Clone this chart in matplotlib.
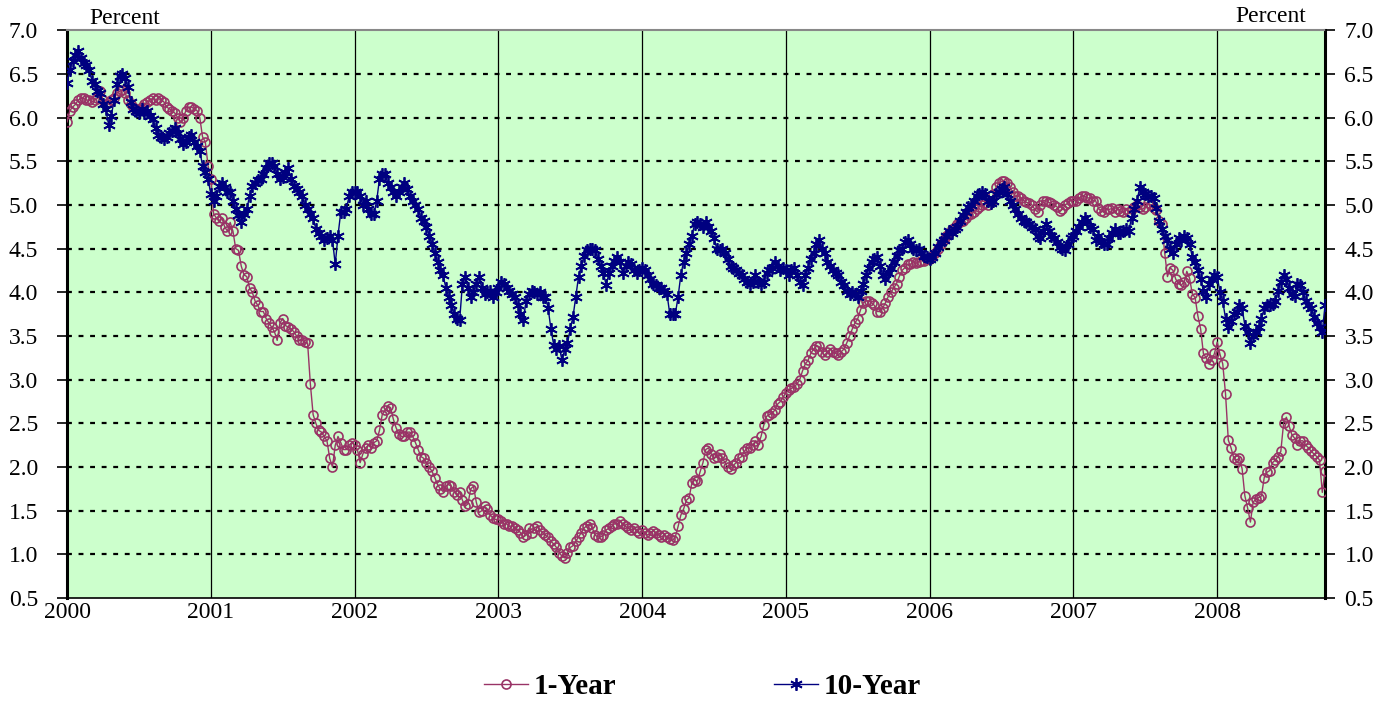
####################
# 1-Year and 10-Year Treasury yields, weekly, 2000 - 2008
####################

# IMPORTS
import numpy as np
import matplotlib
matplotlib.use("Agg")
import matplotlib.pyplot as plt
from matplotlib.lines import Line2D


# DATA (weekly values, one list per year)
years = [2000, 2001, 2002, 2003, 2004, 2005, 2006, 2007, 2008]

one_year = {
    2000: [5.95, 6.08, 6.12, 6.15, 6.2, 6.22, 6.22, 6.2, 6.2, 6.18, 6.2, 6.22, 6.3,
           6.2, 6.15, 6.18, 6.2, 6.22, 6.28, 6.3, 6.32, 6.28, 6.2, 6.15, 6.12, 6.1,
           6.1, 6.12, 6.15, 6.18, 6.2, 6.22, 6.2, 6.22, 6.2, 6.18, 6.12, 6.1, 6.08,
           6.05, 6.0, 5.95, 6.0, 6.08, 6.12, 6.12, 6.1, 6.08, 6.0, 5.78, 5.72, 5.45],
    2001: [5.3, 4.9, 4.85, 4.82, 4.85, 4.75, 4.7, 4.8, 4.7, 4.5, 4.48, 4.3, 4.2,
           4.18, 4.05, 4.0, 3.9, 3.85, 3.78, 3.78, 3.7, 3.65, 3.6, 3.55, 3.45, 3.65,
           3.7, 3.62, 3.6, 3.58, 3.55, 3.5, 3.45, 3.45, 3.43, 3.42, 2.95, 2.6, 2.5,
           2.42, 2.4, 2.35, 2.3, 2.1, 2.0, 2.25, 2.35, 2.28, 2.2, 2.2, 2.25, 2.28],
    2002: [2.25, 2.2, 2.05, 2.15, 2.22, 2.25, 2.22, 2.28, 2.3, 2.42, 2.6, 2.65, 2.7,
           2.68, 2.55, 2.45, 2.38, 2.35, 2.35, 2.4, 2.4, 2.35, 2.28, 2.2, 2.12, 2.1,
           2.05, 2.0, 1.95, 1.88, 1.8, 1.75, 1.72, 1.78, 1.8, 1.78, 1.72, 1.68, 1.72,
           1.62, 1.55, 1.58, 1.75, 1.78, 1.6, 1.48, 1.5, 1.55, 1.52, 1.45, 1.42, 1.4],
    2003: [1.4, 1.38, 1.35, 1.35, 1.32, 1.33, 1.3, 1.28, 1.25, 1.2, 1.22, 1.3, 1.25,
           1.3, 1.32, 1.28, 1.25, 1.22, 1.2, 1.15, 1.12, 1.08, 1.02, 0.98, 0.96, 1.02,
           1.08, 1.1, 1.15, 1.2, 1.25, 1.3, 1.33, 1.35, 1.3, 1.22, 1.2, 1.2, 1.22,
           1.28, 1.3, 1.32, 1.35, 1.35, 1.38, 1.35, 1.32, 1.3, 1.28, 1.3, 1.27, 1.25],
    2004: [1.28, 1.25, 1.22, 1.25, 1.27, 1.25, 1.22, 1.2, 1.22, 1.2, 1.18, 1.16, 1.2,
           1.32, 1.45, 1.52, 1.62, 1.65, 1.82, 1.85, 1.84, 1.95, 2.05, 2.2, 2.22, 2.15,
           2.1, 2.12, 2.15, 2.1, 2.05, 2.0, 1.98, 2.02, 2.05, 2.1, 2.12, 2.18, 2.22,
           2.22, 2.25, 2.3, 2.25, 2.35, 2.48, 2.58, 2.6, 2.62, 2.65, 2.72, 2.75, 2.8],
    2005: [2.85, 2.88, 2.9, 2.92, 2.95, 3.0, 3.1, 3.18, 3.22, 3.3, 3.35, 3.38, 3.38,
           3.32, 3.28, 3.32, 3.35, 3.32, 3.3, 3.28, 3.32, 3.35, 3.42, 3.5, 3.58, 3.65,
           3.7, 3.8, 3.88, 3.9, 3.9, 3.88, 3.85, 3.78, 3.78, 3.82, 3.88, 3.95, 4.0,
           4.05, 4.1, 4.18, 4.25, 4.28, 4.32, 4.32, 4.35, 4.33, 4.35, 4.36, 4.36, 4.38],
    2006: [4.38, 4.42, 4.45, 4.5, 4.55, 4.6, 4.65, 4.68, 4.72, 4.75, 4.78, 4.8, 4.82,
           4.85, 4.88, 4.9, 4.92, 4.95, 4.98, 5.0, 5.02, 5.0, 5.05, 5.12, 5.2, 5.25,
           5.27, 5.27, 5.25, 5.2, 5.15, 5.1, 5.1, 5.08, 5.05, 5.03, 5.02, 5.0, 4.95,
           4.92, 5.0, 5.05, 5.05, 5.03, 5.02, 5.0, 4.98, 4.93, 4.95, 5.0, 5.02, 5.05],
    2007: [5.05, 5.05, 5.08, 5.1, 5.1, 5.08, 5.08, 5.05, 5.05, 4.96, 4.93, 4.92, 4.95,
           4.95, 4.96, 4.92, 4.95, 4.93, 4.92, 4.95, 4.92, 4.95, 4.98, 5.0, 4.98, 4.95,
           4.98, 5.02, 5.0, 4.96, 4.94, 4.82, 4.78, 4.45, 4.18, 4.28, 4.25, 4.15, 4.1,
           4.08, 4.12, 4.24, 4.16, 3.98, 3.94, 3.73, 3.58, 3.3, 3.25, 3.18, 3.22, 3.3],
    2008: [3.43, 3.29, 3.18, 2.84, 2.31, 2.22, 2.1, 2.08, 2.1, 1.98, 1.67, 1.53, 1.37,
           1.6, 1.63, 1.65, 1.67, 1.88, 1.94, 1.96, 2.05, 2.08, 2.12, 2.18, 2.5, 2.57,
           2.47, 2.37, 2.33, 2.25, 2.3, 2.3, 2.25, 2.22, 2.18, 2.15, 2.12, 2.08, 1.71,
           1.96],
}

ten_year = {
    2000: [6.4, 6.55, 6.65, 6.72, 6.76, 6.68, 6.62, 6.6, 6.55, 6.42, 6.38, 6.3, 6.28,
           6.15, 6.1, 5.92, 6.02, 6.2, 6.38, 6.48, 6.5, 6.45, 6.35, 6.18, 6.1, 6.08,
           6.05, 6.1, 6.05, 6.08, 6.02, 5.98, 5.88, 5.8, 5.78, 5.75, 5.78, 5.82, 5.85,
           5.88, 5.82, 5.75, 5.7, 5.72, 5.78, 5.8, 5.72, 5.68, 5.62, 5.45, 5.38, 5.3],
    2001: [5.12, 5.05, 5.1, 5.22, 5.25, 5.2, 5.15, 5.15, 5.05, 4.95, 4.88, 4.8, 4.9,
           4.95, 5.1, 5.22, 5.25, 5.28, 5.3, 5.35, 5.42, 5.48, 5.48, 5.45, 5.35, 5.3,
           5.32, 5.38, 5.42, 5.3, 5.22, 5.18, 5.15, 5.1, 5.0, 4.95, 4.9, 4.85, 4.72,
           4.68, 4.65, 4.6, 4.62, 4.65, 4.6, 4.32, 4.65, 4.92, 4.92, 4.95, 5.1, 5.15],
    2002: [5.15, 5.15, 5.1, 5.0, 5.05, 4.95, 4.9, 4.9, 5.05, 5.3, 5.35, 5.35, 5.25,
           5.2, 5.15, 5.1, 5.15, 5.2, 5.25, 5.18, 5.1, 5.05, 5.0, 4.95, 4.85, 4.82,
           4.75, 4.65, 4.55, 4.45, 4.35, 4.25, 4.2, 4.05, 3.95, 3.85, 3.75, 3.7, 3.68,
           4.1, 4.18, 4.05, 3.95, 4.0, 4.1, 4.18, 4.05, 3.98, 4.0, 4.02, 3.95, 4.0],
    2003: [4.05, 4.12, 4.1, 4.05, 4.02, 3.98, 3.95, 3.85, 3.75, 3.68, 3.9, 3.98, 4.02,
           4.0, 3.98, 4.0, 3.95, 3.95, 3.82, 3.58, 3.4, 3.35, 3.38, 3.22, 3.35, 3.42,
           3.58, 3.72, 3.95, 4.18, 4.3, 4.42, 4.48, 4.5, 4.5, 4.48, 4.38, 4.3, 4.22,
           4.08, 4.22, 4.3, 4.36, 4.4, 4.35, 4.22, 4.3, 4.35, 4.32, 4.25, 4.22, 4.25],
    2004: [4.28, 4.25, 4.2, 4.15, 4.1, 4.08, 4.05, 4.05, 4.02, 3.98, 3.75, 3.75, 3.75,
           3.95, 4.2, 4.35, 4.45, 4.55, 4.65, 4.78, 4.8, 4.78, 4.75, 4.8, 4.75, 4.7,
           4.62, 4.5, 4.48, 4.5, 4.45, 4.38, 4.3, 4.28, 4.25, 4.22, 4.2, 4.15, 4.12,
           4.1, 4.12, 4.2, 4.12, 4.1, 4.12, 4.22, 4.25, 4.28, 4.35, 4.3, 4.25, 4.28],
    2005: [4.25, 4.2, 4.25, 4.28, 4.2, 4.12, 4.08, 4.2, 4.28, 4.38, 4.45, 4.55, 4.6,
           4.5, 4.45, 4.35, 4.3, 4.25, 4.22, 4.2, 4.12, 4.08, 4.02, 3.98, 4.0, 3.98,
           3.95, 4.02, 4.1, 4.2, 4.28, 4.35, 4.38, 4.4, 4.3, 4.2, 4.15, 4.22, 4.28,
           4.35, 4.42, 4.48, 4.5, 4.58, 4.6, 4.55, 4.5, 4.48, 4.5, 4.45, 4.42, 4.4],
    2006: [4.38, 4.4, 4.45, 4.52, 4.58, 4.6, 4.65, 4.7, 4.68, 4.72, 4.75, 4.82, 4.88,
           4.92, 4.98, 5.0, 5.05, 5.1, 5.12, 5.15, 5.12, 5.05, 5.02, 5.05, 5.12, 5.15,
           5.18, 5.2, 5.12, 5.05, 5.0, 4.95, 4.9, 4.85, 4.82, 4.8, 4.78, 4.75, 4.72,
           4.65, 4.62, 4.7, 4.78, 4.7, 4.65, 4.62, 4.58, 4.52, 4.5, 4.48, 4.55, 4.62],
    2007: [4.65, 4.7, 4.75, 4.8, 4.85, 4.82, 4.75, 4.72, 4.6, 4.65, 4.58, 4.55, 4.55,
           4.62, 4.68, 4.72, 4.68, 4.68, 4.7, 4.72, 4.7, 4.85, 4.95, 5.05, 5.2, 5.15,
           5.12, 5.1, 5.1, 5.08, 4.97, 4.82, 4.72, 4.65, 4.6, 4.5, 4.45, 4.55, 4.62,
           4.6, 4.65, 4.62, 4.55, 4.4, 4.35, 4.25, 4.15, 4.02, 3.95, 4.1, 4.15, 4.2],
    2008: [4.18, 4.0, 3.9, 3.7, 3.6, 3.67, 3.75, 3.78, 3.85, 3.82, 3.62, 3.55, 3.42,
           3.5, 3.55, 3.6, 3.7, 3.82, 3.85, 3.85, 3.87, 3.9, 4.02, 4.12, 4.2, 4.15,
           4.05, 3.98, 3.96, 4.1, 4.08, 4.0, 3.9, 3.85, 3.82, 3.72, 3.65, 3.6, 3.55,
           3.85],
}

y_ticks = np.arange(0.5, 7.01, 0.5)

RED = "#993366"
BLUE = "#000080"
BG = "#CCFFCC"
SERIF = ["Liberation Serif", "DejaVu Serif"]
TICK_SIZE = 17


# FUNCTIONS

# dict of year -> weekly list  ->  (x in fractional years, values)
def to_series(by_year):
    xs, vals = [], []
    for yr in years:
        weeks = by_year[yr]
        for i, v in enumerate(weeks):
            xs.append(yr + i / 52.0)
            vals.append(v)
    return np.array(xs), np.array(vals)


def main():
    x1, y1 = to_series(one_year)
    x10, y10 = to_series(ten_year)

    fig = plt.figure(figsize=(13.97, 7.02), dpi=100)
    ax = fig.add_axes([0.048, 0.148, 0.9005, 0.809])
    ax.set_facecolor(BG)

    # grid: dotted horizontal, solid vertical at each year
    for v in y_ticks[1:-1]:
        ax.axhline(v, color="black", lw=1.6, ls=(0, (2.2, 3.0)), zorder=1)
    for yr in years[1:]:
        ax.axvline(yr, color="black", lw=0.9, zorder=1)

    ax.plot(x1, y1, color=RED, lw=1.0, marker="o", ms=6.5, mfc="none",
            mec=RED, mew=1.2, zorder=3)
    ax.plot(x10, y10, color=BLUE, lw=1.0, marker=(6, 2, 0), ms=9,
            mec=BLUE, mew=1.3, zorder=4)

    ax.set_xlim(years[0], x1[-1])
    ax.set_ylim(0.5, 7.0)
    ax.set_yticks(y_ticks)
    ax.set_yticklabels(["%.1f" % v for v in y_ticks])
    ax.set_xticks(years)
    ax.set_xticklabels([str(y) for y in years])

    for lab in ax.get_xticklabels() + ax.get_yticklabels():
        lab.set_family(SERIF)
        lab.set_fontsize(TICK_SIZE)
    ax.tick_params(axis="y", direction="out", length=7, width=1.2, pad=14)
    ax.tick_params(axis="x", direction="out", length=0, pad=3)

    ax.spines["left"].set_linewidth(2.2)
    ax.spines["right"].set_linewidth(2.2)
    ax.spines["top"].set_color("#888888")
    ax.spines["top"].set_linewidth(1.5)
    ax.spines["bottom"].set_linewidth(1.2)

    # right-hand axis, same scale
    ax2 = ax.twinx()
    ax2.set_ylim(ax.get_ylim())
    ax2.set_yticks(y_ticks)
    ax2.set_yticklabels(["%.1f" % v for v in y_ticks])
    for lab in ax2.get_yticklabels():
        lab.set_family(SERIF)
        lab.set_fontsize(TICK_SIZE)
    ax2.tick_params(axis="y", direction="out", length=7, width=1.2, pad=7)
    for s in ax2.spines.values():
        s.set_visible(False)

    fig.text(0.064, 0.958, "Percent", family=SERIF, fontsize=TICK_SIZE,
             ha="left", va="bottom")
    fig.text(0.935, 0.962, "Percent", family=SERIF, fontsize=TICK_SIZE,
             ha="right", va="bottom")

    handles = [
        Line2D([], [], color=RED, lw=1.0, marker="o", ms=6.5, mfc="none", mec=RED, mew=1.2),
        Line2D([], [], color=BLUE, lw=1.0, marker=(6, 2, 0), ms=9, mec=BLUE, mew=1.3),
    ]
    fig.legend(handles, ["1-Year", "10-Year"], loc="center", ncol=2,
               bbox_to_anchor=(0.503, 0.022), frameon=False, handlelength=1.5,
               columnspacing=5.4, handletextpad=0.2,
               prop={"family": SERIF, "weight": "bold", "size": 21})

    fig.savefig("out.png", dpi=100)


if __name__ == '__main__':
    main()
